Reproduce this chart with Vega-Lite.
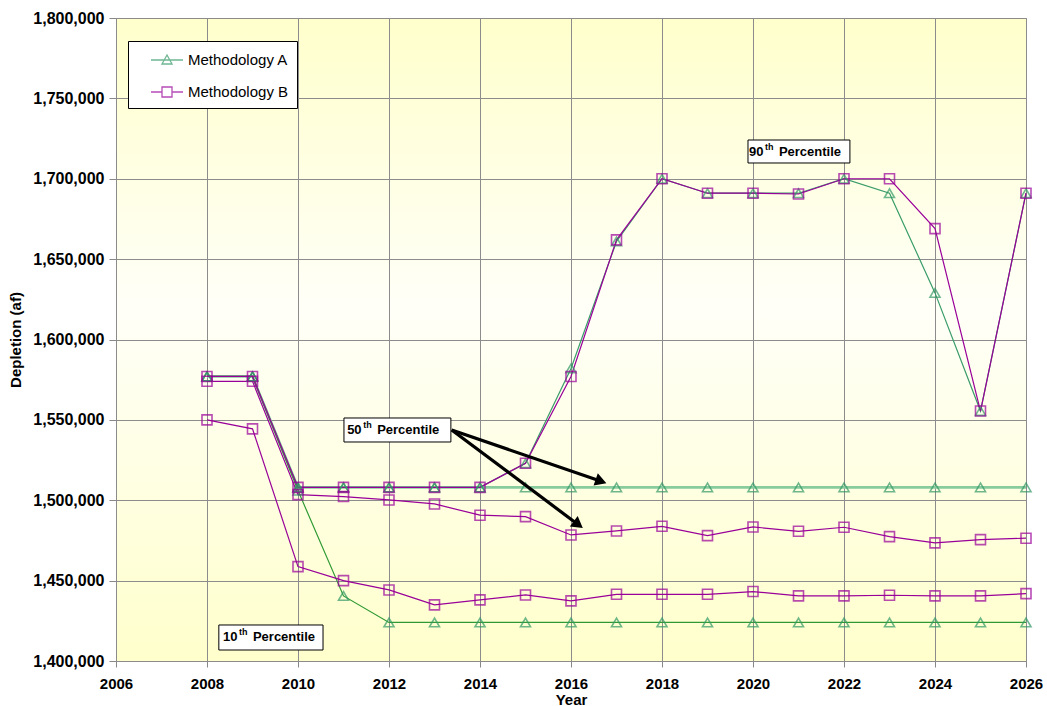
{
  "$schema": "https://vega.github.io/schema/vega-lite/v6.json",
  "width": 910,
  "height": 643,
  "autosize": "none",
  "padding": {"left": 116, "top": 18, "right": 21, "bottom": 45},
  "background": "white",
  "view": {
    "stroke": "#888888",
    "strokeWidth": 1,
    "fill": {"gradient": "linear", "x1": 0, "y1": 0, "x2": 0, "y2": 1,
      "stops": [{"offset": 0, "color": "#FFFFCC"}, {"offset": 0.45, "color": "#FFFFF8"}, {"offset": 1, "color": "#FFFFCC"}]}
  },
  "config": {"font": "Liberation Sans"},
  "datasets": {
    "main": [
      {"year": 2008, "depletion": 1577000, "method": "Methodology A", "percentile": "90th", "series": "A 90th"},
      {"year": 2009, "depletion": 1577000, "method": "Methodology A", "percentile": "90th", "series": "A 90th"},
      {"year": 2010, "depletion": 1508000, "method": "Methodology A", "percentile": "90th", "series": "A 90th"},
      {"year": 2011, "depletion": 1508000, "method": "Methodology A", "percentile": "90th", "series": "A 90th"},
      {"year": 2012, "depletion": 1508000, "method": "Methodology A", "percentile": "90th", "series": "A 90th"},
      {"year": 2013, "depletion": 1508000, "method": "Methodology A", "percentile": "90th", "series": "A 90th"},
      {"year": 2014, "depletion": 1508000, "method": "Methodology A", "percentile": "90th", "series": "A 90th"},
      {"year": 2015, "depletion": 1523000, "method": "Methodology A", "percentile": "90th", "series": "A 90th"},
      {"year": 2016, "depletion": 1582000, "method": "Methodology A", "percentile": "90th", "series": "A 90th"},
      {"year": 2017, "depletion": 1661000, "method": "Methodology A", "percentile": "90th", "series": "A 90th"},
      {"year": 2018, "depletion": 1700000, "method": "Methodology A", "percentile": "90th", "series": "A 90th"},
      {"year": 2019, "depletion": 1691000, "method": "Methodology A", "percentile": "90th", "series": "A 90th"},
      {"year": 2020, "depletion": 1691000, "method": "Methodology A", "percentile": "90th", "series": "A 90th"},
      {"year": 2021, "depletion": 1691000, "method": "Methodology A", "percentile": "90th", "series": "A 90th"},
      {"year": 2022, "depletion": 1700000, "method": "Methodology A", "percentile": "90th", "series": "A 90th"},
      {"year": 2023, "depletion": 1691000, "method": "Methodology A", "percentile": "90th", "series": "A 90th"},
      {"year": 2024, "depletion": 1629000, "method": "Methodology A", "percentile": "90th", "series": "A 90th"},
      {"year": 2025, "depletion": 1555500, "method": "Methodology A", "percentile": "90th", "series": "A 90th"},
      {"year": 2026, "depletion": 1691000, "method": "Methodology A", "percentile": "90th", "series": "A 90th"},

      {"year": 2008, "depletion": 1577000, "method": "Methodology A", "percentile": "50th", "series": "A 50th"},
      {"year": 2009, "depletion": 1577000, "method": "Methodology A", "percentile": "50th", "series": "A 50th"},
      {"year": 2010, "depletion": 1508000, "method": "Methodology A", "percentile": "50th", "series": "A 50th"},
      {"year": 2011, "depletion": 1508000, "method": "Methodology A", "percentile": "50th", "series": "A 50th"},
      {"year": 2012, "depletion": 1508000, "method": "Methodology A", "percentile": "50th", "series": "A 50th"},
      {"year": 2013, "depletion": 1508000, "method": "Methodology A", "percentile": "50th", "series": "A 50th"},
      {"year": 2014, "depletion": 1508000, "method": "Methodology A", "percentile": "50th", "series": "A 50th"},
      {"year": 2015, "depletion": 1508000, "method": "Methodology A", "percentile": "50th", "series": "A 50th"},
      {"year": 2016, "depletion": 1508000, "method": "Methodology A", "percentile": "50th", "series": "A 50th"},
      {"year": 2017, "depletion": 1508000, "method": "Methodology A", "percentile": "50th", "series": "A 50th"},
      {"year": 2018, "depletion": 1508000, "method": "Methodology A", "percentile": "50th", "series": "A 50th"},
      {"year": 2019, "depletion": 1508000, "method": "Methodology A", "percentile": "50th", "series": "A 50th"},
      {"year": 2020, "depletion": 1508000, "method": "Methodology A", "percentile": "50th", "series": "A 50th"},
      {"year": 2021, "depletion": 1508000, "method": "Methodology A", "percentile": "50th", "series": "A 50th"},
      {"year": 2022, "depletion": 1508000, "method": "Methodology A", "percentile": "50th", "series": "A 50th"},
      {"year": 2023, "depletion": 1508000, "method": "Methodology A", "percentile": "50th", "series": "A 50th"},
      {"year": 2024, "depletion": 1508000, "method": "Methodology A", "percentile": "50th", "series": "A 50th"},
      {"year": 2025, "depletion": 1508000, "method": "Methodology A", "percentile": "50th", "series": "A 50th"},
      {"year": 2026, "depletion": 1508000, "method": "Methodology A", "percentile": "50th", "series": "A 50th"},

      {"year": 2008, "depletion": 1577000, "method": "Methodology A", "percentile": "10th", "series": "A 10th"},
      {"year": 2009, "depletion": 1577000, "method": "Methodology A", "percentile": "10th", "series": "A 10th"},
      {"year": 2010, "depletion": 1506000, "method": "Methodology A", "percentile": "10th", "series": "A 10th"},
      {"year": 2011, "depletion": 1440500, "method": "Methodology A", "percentile": "10th", "series": "A 10th"},
      {"year": 2012, "depletion": 1424000, "method": "Methodology A", "percentile": "10th", "series": "A 10th"},
      {"year": 2013, "depletion": 1424000, "method": "Methodology A", "percentile": "10th", "series": "A 10th"},
      {"year": 2014, "depletion": 1424000, "method": "Methodology A", "percentile": "10th", "series": "A 10th"},
      {"year": 2015, "depletion": 1424000, "method": "Methodology A", "percentile": "10th", "series": "A 10th"},
      {"year": 2016, "depletion": 1424000, "method": "Methodology A", "percentile": "10th", "series": "A 10th"},
      {"year": 2017, "depletion": 1424000, "method": "Methodology A", "percentile": "10th", "series": "A 10th"},
      {"year": 2018, "depletion": 1424000, "method": "Methodology A", "percentile": "10th", "series": "A 10th"},
      {"year": 2019, "depletion": 1424000, "method": "Methodology A", "percentile": "10th", "series": "A 10th"},
      {"year": 2020, "depletion": 1424000, "method": "Methodology A", "percentile": "10th", "series": "A 10th"},
      {"year": 2021, "depletion": 1424000, "method": "Methodology A", "percentile": "10th", "series": "A 10th"},
      {"year": 2022, "depletion": 1424000, "method": "Methodology A", "percentile": "10th", "series": "A 10th"},
      {"year": 2023, "depletion": 1424000, "method": "Methodology A", "percentile": "10th", "series": "A 10th"},
      {"year": 2024, "depletion": 1424000, "method": "Methodology A", "percentile": "10th", "series": "A 10th"},
      {"year": 2025, "depletion": 1424000, "method": "Methodology A", "percentile": "10th", "series": "A 10th"},
      {"year": 2026, "depletion": 1424000, "method": "Methodology A", "percentile": "10th", "series": "A 10th"},

      {"year": 2008, "depletion": 1577000, "method": "Methodology B", "percentile": "90th", "series": "B 90th"},
      {"year": 2009, "depletion": 1577000, "method": "Methodology B", "percentile": "90th", "series": "B 90th"},
      {"year": 2010, "depletion": 1508000, "method": "Methodology B", "percentile": "90th", "series": "B 90th"},
      {"year": 2011, "depletion": 1508000, "method": "Methodology B", "percentile": "90th", "series": "B 90th"},
      {"year": 2012, "depletion": 1508000, "method": "Methodology B", "percentile": "90th", "series": "B 90th"},
      {"year": 2013, "depletion": 1508000, "method": "Methodology B", "percentile": "90th", "series": "B 90th"},
      {"year": 2014, "depletion": 1508000, "method": "Methodology B", "percentile": "90th", "series": "B 90th"},
      {"year": 2015, "depletion": 1523000, "method": "Methodology B", "percentile": "90th", "series": "B 90th"},
      {"year": 2016, "depletion": 1577000, "method": "Methodology B", "percentile": "90th", "series": "B 90th"},
      {"year": 2017, "depletion": 1662000, "method": "Methodology B", "percentile": "90th", "series": "B 90th"},
      {"year": 2018, "depletion": 1700000, "method": "Methodology B", "percentile": "90th", "series": "B 90th"},
      {"year": 2019, "depletion": 1691000, "method": "Methodology B", "percentile": "90th", "series": "B 90th"},
      {"year": 2020, "depletion": 1691000, "method": "Methodology B", "percentile": "90th", "series": "B 90th"},
      {"year": 2021, "depletion": 1690500, "method": "Methodology B", "percentile": "90th", "series": "B 90th"},
      {"year": 2022, "depletion": 1700000, "method": "Methodology B", "percentile": "90th", "series": "B 90th"},
      {"year": 2023, "depletion": 1700000, "method": "Methodology B", "percentile": "90th", "series": "B 90th"},
      {"year": 2024, "depletion": 1669000, "method": "Methodology B", "percentile": "90th", "series": "B 90th"},
      {"year": 2025, "depletion": 1555500, "method": "Methodology B", "percentile": "90th", "series": "B 90th"},
      {"year": 2026, "depletion": 1691000, "method": "Methodology B", "percentile": "90th", "series": "B 90th"},

      {"year": 2008, "depletion": 1574000, "method": "Methodology B", "percentile": "50th", "series": "B 50th"},
      {"year": 2009, "depletion": 1574000, "method": "Methodology B", "percentile": "50th", "series": "B 50th"},
      {"year": 2010, "depletion": 1503500, "method": "Methodology B", "percentile": "50th", "series": "B 50th"},
      {"year": 2011, "depletion": 1502300, "method": "Methodology B", "percentile": "50th", "series": "B 50th"},
      {"year": 2012, "depletion": 1500200, "method": "Methodology B", "percentile": "50th", "series": "B 50th"},
      {"year": 2013, "depletion": 1497700, "method": "Methodology B", "percentile": "50th", "series": "B 50th"},
      {"year": 2014, "depletion": 1490700, "method": "Methodology B", "percentile": "50th", "series": "B 50th"},
      {"year": 2015, "depletion": 1489800, "method": "Methodology B", "percentile": "50th", "series": "B 50th"},
      {"year": 2016, "depletion": 1478400, "method": "Methodology B", "percentile": "50th", "series": "B 50th"},
      {"year": 2017, "depletion": 1480900, "method": "Methodology B", "percentile": "50th", "series": "B 50th"},
      {"year": 2018, "depletion": 1483800, "method": "Methodology B", "percentile": "50th", "series": "B 50th"},
      {"year": 2019, "depletion": 1478000, "method": "Methodology B", "percentile": "50th", "series": "B 50th"},
      {"year": 2020, "depletion": 1483400, "method": "Methodology B", "percentile": "50th", "series": "B 50th"},
      {"year": 2021, "depletion": 1480700, "method": "Methodology B", "percentile": "50th", "series": "B 50th"},
      {"year": 2022, "depletion": 1483200, "method": "Methodology B", "percentile": "50th", "series": "B 50th"},
      {"year": 2023, "depletion": 1477400, "method": "Methodology B", "percentile": "50th", "series": "B 50th"},
      {"year": 2024, "depletion": 1473500, "method": "Methodology B", "percentile": "50th", "series": "B 50th"},
      {"year": 2025, "depletion": 1475500, "method": "Methodology B", "percentile": "50th", "series": "B 50th"},
      {"year": 2026, "depletion": 1476400, "method": "Methodology B", "percentile": "50th", "series": "B 50th"},

      {"year": 2008, "depletion": 1550000, "method": "Methodology B", "percentile": "10th", "series": "B 10th"},
      {"year": 2009, "depletion": 1544400, "method": "Methodology B", "percentile": "10th", "series": "B 10th"},
      {"year": 2010, "depletion": 1458700, "method": "Methodology B", "percentile": "10th", "series": "B 10th"},
      {"year": 2011, "depletion": 1450000, "method": "Methodology B", "percentile": "10th", "series": "B 10th"},
      {"year": 2012, "depletion": 1444200, "method": "Methodology B", "percentile": "10th", "series": "B 10th"},
      {"year": 2013, "depletion": 1434900, "method": "Methodology B", "percentile": "10th", "series": "B 10th"},
      {"year": 2014, "depletion": 1438000, "method": "Methodology B", "percentile": "10th", "series": "B 10th"},
      {"year": 2015, "depletion": 1441100, "method": "Methodology B", "percentile": "10th", "series": "B 10th"},
      {"year": 2016, "depletion": 1437400, "method": "Methodology B", "percentile": "10th", "series": "B 10th"},
      {"year": 2017, "depletion": 1441500, "method": "Methodology B", "percentile": "10th", "series": "B 10th"},
      {"year": 2018, "depletion": 1441500, "method": "Methodology B", "percentile": "10th", "series": "B 10th"},
      {"year": 2019, "depletion": 1441500, "method": "Methodology B", "percentile": "10th", "series": "B 10th"},
      {"year": 2020, "depletion": 1443200, "method": "Methodology B", "percentile": "10th", "series": "B 10th"},
      {"year": 2021, "depletion": 1440500, "method": "Methodology B", "percentile": "10th", "series": "B 10th"},
      {"year": 2022, "depletion": 1440500, "method": "Methodology B", "percentile": "10th", "series": "B 10th"},
      {"year": 2023, "depletion": 1440900, "method": "Methodology B", "percentile": "10th", "series": "B 10th"},
      {"year": 2024, "depletion": 1440500, "method": "Methodology B", "percentile": "10th", "series": "B 10th"},
      {"year": 2025, "depletion": 1440500, "method": "Methodology B", "percentile": "10th", "series": "B 10th"},
      {"year": 2026, "depletion": 1441900, "method": "Methodology B", "percentile": "10th", "series": "B 10th"}
    ],
    "boxes": [
      {"label": "90th", "bx": 2019.89, "bx2": 2022.13, "by": 1724100, "by2": 1709800, "tx": 2019.91, "ty": 1716950, "num": "90", "sup": "th", "rest": "Percentile"},
      {"label": "50th", "bx": 2011.01, "bx2": 2013.36, "by": 1551170, "by2": 1536240, "tx": 2011.08, "ty": 1543700, "num": "50", "sup": "th", "rest": "Percentile"},
      {"label": "10th", "bx": 2008.26, "bx2": 2010.55, "by": 1422400, "by2": 1406840, "tx": 2008.35, "ty": 1414630, "num": "10", "sup": "th", "rest": "Percentile"}
    ],
    "arrows": [
      {"arrow": "a1", "sx": 2013.378, "sy": 1543700, "ex": 2016.66, "ey": 1511790},
      {"arrow": "a2", "sx": 2013.378, "sy": 1543700, "ex": 2016.16, "ey": 1484790}
    ]
  },
  "encoding": {
    "x": {
      "field": "year", "type": "quantitative",
      "scale": {"domain": [2006, 2026], "nice": false, "zero": false},
      "axis": {
        "values": [2006, 2008, 2010, 2012, 2014, 2016, 2018, 2020, 2022, 2024, 2026],
        "format": "d", "labelFontSize": 15, "labelFontWeight": "bold", "labelColor": "black",
        "labelFlush": false, "labelOverlap": false, "labelPadding": 9,
        "tickColor": "#888888", "tickSize": 6, "domain": false,
        "grid": true, "gridColor": "#8c8c8c", "gridOpacity": 1,
        "title": "Year", "titleFontSize": 15, "titleFontWeight": "bold", "titleColor": "black", "titlePadding": 1
      }
    },
    "y": {
      "field": "depletion", "type": "quantitative",
      "scale": {"domain": [1400000, 1800000], "nice": false, "zero": false},
      "axis": {
        "values": [1400000, 1450000, 1500000, 1550000, 1600000, 1650000, 1700000, 1750000, 1800000],
        "format": ",.0f", "labelFontSize": 16, "labelFontWeight": "bold", "labelColor": "black",
        "labelPadding": 5, "tickColor": "#888888", "tickSize": 7, "domain": false,
        "grid": true, "gridColor": "#8c8c8c", "gridOpacity": 1,
        "title": "Depletion (af)", "titleFontSize": 15, "titleFontWeight": "bold", "titleColor": "black", "titlePadding": 9
      }
    }
  },
  "layer": [
    {
      "data": {"name": "main"},
      "transform": [{"filter": "datum.series === 'A 50th'"}],
      "mark": {"type": "line", "strokeWidth": 2.6, "color": "#88CC9E"},
      "encoding": {"detail": {"field": "series", "type": "nominal"}}
    },
    {
      "data": {"name": "main"},
      "transform": [{"filter": "datum.series !== 'A 50th'"}],
      "mark": {"type": "line", "strokeWidth": 1.2},
      "encoding": {
        "color": {
          "field": "series", "type": "nominal", "legend": null,
          "scale": {"domain": ["A 10th", "A 90th", "B 10th", "B 50th", "B 90th"],
                    "range": ["#2F9A35", "#3A9C6A", "#990099", "#990099", "#990099"]}
        }
      }
    },
    {
      "data": {"name": "main"},
      "mark": {"type": "point", "filled": false, "size": 100, "strokeWidth": 1.6},
      "encoding": {
        "shape": {"field": "method", "type": "nominal", "legend": null,
                  "scale": {"domain": ["Methodology A", "Methodology B"], "range": ["triangle-up", "square"]}},
        "color": {
          "field": "method", "type": "nominal", "legend": null,
          "scale": {"domain": ["Methodology A", "Methodology B"], "range": ["#339966", "#990099"]}
        }
      }
    },
    {
      "data": {"name": "main"},
      "transform": [{"filter": "datum.year < 0"}],
      "mark": {"type": "point", "filled": false, "strokeWidth": 1.3},
      "encoding": {
        "shape": {"field": "method", "type": "nominal",
                  "scale": {"domain": ["Methodology A", "Methodology B"],
                            "range": ["M-1.6,0H1.6M0,-0.5L0.5,0.4H-0.5Z", "M-1.6,0H-0.5M0.5,0H1.6M-0.5,-0.5H0.5V0.5H-0.5Z"]},
                  "legend": {
                    "orient": "none", "legendX": 12, "legendY": 23, "title": null,
                    "fillColor": "white", "strokeColor": "black",
                    "padding": 8, "rowPadding": 13,
                    "labelFontSize": 15, "labelColor": "black", "labelFont": "Liberation Sans",
                    "symbolSize": 400, "symbolStrokeWidth": 1.3, "symbolOffset": 20, "labelOffset": 10
                  }},
        "color": {
          "field": "method", "type": "nominal",
          "scale": {"domain": ["Methodology A", "Methodology B"], "range": ["#339966", "#990099"]},
          "legend": {
            "orient": "none", "legendX": 12, "legendY": 23, "title": null,
            "fillColor": "white", "strokeColor": "black",
            "padding": 8, "rowPadding": 13,
            "labelFontSize": 15, "labelColor": "black", "labelFont": "Liberation Sans",
            "symbolSize": 400, "symbolStrokeWidth": 1.3, "symbolOffset": 20, "labelOffset": 10
          }
        }
      }
    },
    {
      "data": {"name": "arrows"},
      "mark": {"type": "rule", "color": "black", "strokeWidth": 3.2},
      "encoding": {
        "x": {"field": "sx", "type": "quantitative"},
        "y": {"field": "sy", "type": "quantitative"},
        "x2": {"field": "ex"},
        "y2": {"field": "ey"}
      }
    },
    {
      "data": {"name": "arrows"},
      "transform": [{"filter": "datum.arrow === 'a1'"}],
      "mark": {"type": "point", "shape": "triangle-right", "filled": true, "color": "black", "opacity": 1, "size": 170, "angle": 19},
      "encoding": {
        "x": {"field": "ex", "type": "quantitative"},
        "y": {"field": "ey", "type": "quantitative"}
      }
    },
    {
      "data": {"name": "arrows"},
      "transform": [{"filter": "datum.arrow === 'a2'"}],
      "mark": {"type": "point", "shape": "triangle-right", "filled": true, "color": "black", "opacity": 1, "size": 170, "angle": 37},
      "encoding": {
        "x": {"field": "ex", "type": "quantitative"},
        "y": {"field": "ey", "type": "quantitative"}
      }
    },
    {
      "data": {"name": "boxes"},
      "mark": {"type": "rect", "fill": "white", "stroke": "black", "strokeWidth": 1},
      "encoding": {
        "x": {"field": "bx", "type": "quantitative"},
        "x2": {"field": "bx2"},
        "y": {"field": "by", "type": "quantitative"},
        "y2": {"field": "by2"}
      }
    },
    {
      "data": {"name": "boxes"},
      "mark": {"type": "text", "align": "left", "baseline": "middle", "fontSize": 13, "fontWeight": "bold", "color": "black"},
      "encoding": {
        "x": {"field": "tx", "type": "quantitative"},
        "y": {"field": "ty", "type": "quantitative"},
        "text": {"field": "num"}
      }
    },
    {
      "data": {"name": "boxes"},
      "mark": {"type": "text", "align": "left", "baseline": "middle", "fontSize": 9, "fontWeight": "bold", "color": "black", "dx": 16, "dy": -5},
      "encoding": {
        "x": {"field": "tx", "type": "quantitative"},
        "y": {"field": "ty", "type": "quantitative"},
        "text": {"field": "sup"}
      }
    },
    {
      "data": {"name": "boxes"},
      "mark": {"type": "text", "align": "left", "baseline": "middle", "fontSize": 13, "fontWeight": "bold", "color": "black", "dx": 30},
      "encoding": {
        "x": {"field": "tx", "type": "quantitative"},
        "y": {"field": "ty", "type": "quantitative"},
        "text": {"field": "rest"}
      }
    }
  ],
  "resolve": {"scale": {"color": "independent", "shape": "independent"}}
}
